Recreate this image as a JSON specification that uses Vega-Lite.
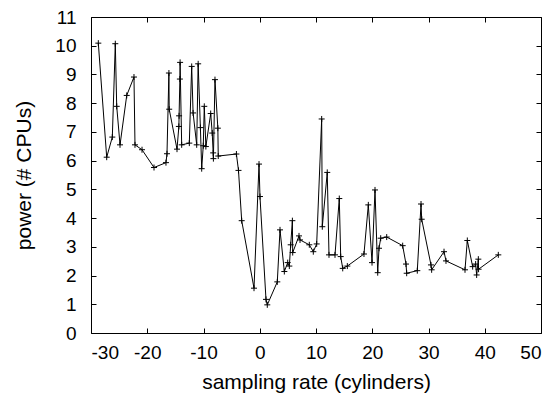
{
  "$schema": "https://vega.github.io/schema/vega-lite/v6.json",
  "autosize": {"type": "none"},
  "padding": {"left": 91, "top": 17, "right": 18, "bottom": 65},
  "width": 450,
  "height": 316,
  "config": {
    "view": {"stroke": "black", "strokeWidth": 1},
    "font": "Liberation Sans",
    "axis": {
      "grid": false,
      "domain": false,
      "offset": -5,
      "tickColor": "black",
      "tickSize": 5,
      "tickWidth": 1,
      "labelColor": "black",
      "labelFont": "Liberation Sans",
      "labelFontSize": 19,
      "titleFont": "Liberation Sans",
      "titleFontSize": 21,
      "titleFontWeight": "normal",
      "titleColor": "black",
      "labelExpr": "datum.value < 0 ? '-' + abs(datum.value) : '' + datum.value"
    }
  },
  "data": {
    "values": [
      {"i": 1, "x": -28.70, "y": 10.09},
      {"i": 2, "x": -27.21, "y": 6.12},
      {"i": 3, "x": -26.21, "y": 6.82},
      {"i": 4, "x": -25.68, "y": 10.07},
      {"i": 5, "x": -25.43, "y": 7.89},
      {"i": 6, "x": -24.84, "y": 6.55},
      {"i": 7, "x": -23.65, "y": 8.27},
      {"i": 8, "x": -22.36, "y": 8.91},
      {"i": 9, "x": -22.18, "y": 6.55},
      {"i": 10, "x": -20.93, "y": 6.38},
      {"i": 11, "x": -18.80, "y": 5.76},
      {"i": 12, "x": -16.67, "y": 5.93},
      {"i": 13, "x": -16.49, "y": 6.24},
      {"i": 14, "x": -16.15, "y": 9.05},
      {"i": 15, "x": -16.10, "y": 7.79},
      {"i": 16, "x": -14.71, "y": 6.40},
      {"i": 17, "x": -14.38, "y": 7.19},
      {"i": 18, "x": -14.34, "y": 7.56},
      {"i": 19, "x": -14.20, "y": 8.84},
      {"i": 20, "x": -14.16, "y": 9.42},
      {"i": 21, "x": -13.88, "y": 6.55},
      {"i": 22, "x": -12.52, "y": 6.61},
      {"i": 23, "x": -12.10, "y": 9.28},
      {"i": 24, "x": -11.85, "y": 7.66},
      {"i": 25, "x": -11.21, "y": 6.55},
      {"i": 26, "x": -10.95, "y": 9.37},
      {"i": 27, "x": -10.55, "y": 7.15},
      {"i": 28, "x": -10.32, "y": 5.72},
      {"i": 29, "x": -10.04, "y": 6.52},
      {"i": 30, "x": -9.86, "y": 7.89},
      {"i": 31, "x": -9.58, "y": 6.49},
      {"i": 32, "x": -8.72, "y": 7.64},
      {"i": 33, "x": -8.45, "y": 6.96},
      {"i": 34, "x": -8.28, "y": 6.27},
      {"i": 35, "x": -8.24, "y": 6.07},
      {"i": 36, "x": -7.96, "y": 8.82},
      {"i": 37, "x": -7.45, "y": 7.13},
      {"i": 38, "x": -7.38, "y": 6.16},
      {"i": 39, "x": -4.15, "y": 6.23},
      {"i": 40, "x": -3.78, "y": 5.66},
      {"i": 41, "x": -3.21, "y": 3.91},
      {"i": 42, "x": -1.02, "y": 1.56},
      {"i": 43, "x": -0.13, "y": 5.88},
      {"i": 44, "x": 0.04, "y": 4.75},
      {"i": 45, "x": 1.11, "y": 1.17},
      {"i": 46, "x": 1.34, "y": 0.98},
      {"i": 47, "x": 3.12, "y": 1.78},
      {"i": 48, "x": 3.60, "y": 3.59},
      {"i": 49, "x": 4.37, "y": 2.14},
      {"i": 50, "x": 4.97, "y": 2.45},
      {"i": 51, "x": 5.26, "y": 2.33},
      {"i": 52, "x": 5.50, "y": 3.07},
      {"i": 53, "x": 5.80, "y": 3.91},
      {"i": 54, "x": 5.86, "y": 2.80},
      {"i": 55, "x": 6.98, "y": 3.38},
      {"i": 56, "x": 7.16, "y": 3.24},
      {"i": 57, "x": 8.81, "y": 3.07},
      {"i": 58, "x": 9.52, "y": 2.83},
      {"i": 59, "x": 10.12, "y": 3.10},
      {"i": 60, "x": 11.01, "y": 7.45},
      {"i": 61, "x": 11.12, "y": 3.70},
      {"i": 62, "x": 12.00, "y": 5.59},
      {"i": 63, "x": 12.31, "y": 2.72},
      {"i": 64, "x": 13.38, "y": 2.72},
      {"i": 65, "x": 14.14, "y": 4.68},
      {"i": 66, "x": 14.39, "y": 2.66},
      {"i": 67, "x": 14.75, "y": 2.25},
      {"i": 68, "x": 15.57, "y": 2.33},
      {"i": 69, "x": 18.53, "y": 2.75},
      {"i": 70, "x": 19.30, "y": 4.46},
      {"i": 71, "x": 19.96, "y": 2.45},
      {"i": 72, "x": 20.49, "y": 4.98},
      {"i": 73, "x": 20.97, "y": 2.10},
      {"i": 74, "x": 21.20, "y": 2.95},
      {"i": 75, "x": 21.50, "y": 3.30},
      {"i": 76, "x": 22.57, "y": 3.34},
      {"i": 77, "x": 25.41, "y": 3.04},
      {"i": 78, "x": 26.00, "y": 2.40},
      {"i": 79, "x": 26.12, "y": 2.08},
      {"i": 80, "x": 28.01, "y": 2.17},
      {"i": 81, "x": 28.67, "y": 4.49},
      {"i": 82, "x": 28.79, "y": 3.96},
      {"i": 83, "x": 30.44, "y": 2.37},
      {"i": 84, "x": 30.56, "y": 2.20},
      {"i": 85, "x": 32.76, "y": 2.83},
      {"i": 86, "x": 33.11, "y": 2.51},
      {"i": 87, "x": 36.49, "y": 2.20},
      {"i": 88, "x": 36.90, "y": 3.22},
      {"i": 89, "x": 37.85, "y": 2.31},
      {"i": 90, "x": 38.38, "y": 2.40},
      {"i": 91, "x": 38.56, "y": 2.02},
      {"i": 92, "x": 38.86, "y": 2.57},
      {"i": 93, "x": 38.90, "y": 2.22},
      {"i": 94, "x": 42.41, "y": 2.72}
    ]
  },
  "layer": [
    {
      "mark": {"type": "line", "color": "black", "strokeWidth": 1, "clip": true},
      "encoding": {
        "x": {"field": "x", "type": "quantitative",
              "scale": {"domain": [-30, 50], "nice": false, "zero": false},
              "axis": {"values": [-30, -20, -10, 0, 10, 20, 30, 40, 50], "title": "sampling rate (cylinders)", "labelPadding": 10, "titlePadding": 9}},
        "y": {"field": "y", "type": "quantitative",
              "scale": {"domain": [0, 11], "nice": false},
              "axis": {"values": [0, 1, 2, 3, 4, 5, 6, 7, 8, 9, 10, 11], "title": "power (# CPUs)", "labelPadding": 15, "titlePadding": 20}},
        "order": {"field": "i", "type": "quantitative"}
      }
    },
    {
      "mark": {"type": "point", "shape": "M-1,0L1,0M0,-1L0,1", "filled": false, "stroke": "black", "strokeWidth": 1, "size": 36, "opacity": 1},
      "encoding": {
        "x": {"field": "x", "type": "quantitative",
              "axis": {"orient": "top", "values": [-30, -20, -10, 0, 10, 20, 30, 40, 50], "labels": false, "title": null}},
        "y": {"field": "y", "type": "quantitative",
              "axis": {"orient": "right", "values": [0, 1, 2, 3, 4, 5, 6, 7, 8, 9, 10, 11], "labels": false, "title": null}}
      }
    }
  ],
  "resolve": {"axis": {"x": "independent", "y": "independent"}}
}
